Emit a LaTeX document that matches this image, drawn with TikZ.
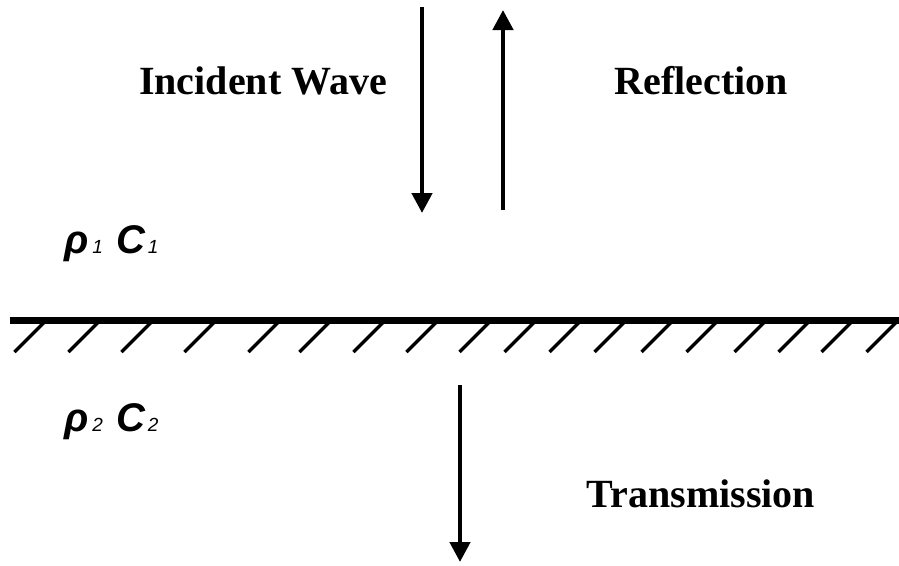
\documentclass[tikz,border=0pt]{standalone}
\usepackage{fontspec}
\setmainfont{Liberation Serif}
\newfontfamily\lsans{Liberation Sans}
\usetikzlibrary{arrows.meta}
\tikzset{
  wave/.style={line width=4.5pt,-{Triangle[width=20pt,length=20pt]}},
  title/.style={inner sep=0pt,anchor=base,font=\fontsize{40}{40}\selectfont\bfseries},
  medium/.style={inner sep=0pt,anchor=base west,font=\lsans\fontsize{40}{40}\selectfont\bfseries\itshape},
  hatch/.style={line width=3.5pt},
  boundary/.style={line width=6.5pt}
}
\newcommand{\subidx}[1]{{\fontsize{19}{19}\selectfont\mdseries #1}}
\begin{document}
\begin{tikzpicture}[x=1pt,y=-1pt]
\useasboundingbox (0,0) rectangle (899,565);
% arrows
\coordinate (incA) at (422,7);
\coordinate (incB) at (422,213);
\coordinate (refA) at (503,210);
\coordinate (refB) at (503,10);
\coordinate (traA) at (460,385);
\coordinate (traB) at (460,562);
\draw[wave] (incA) -- (incB);
\draw[wave] (refA) -- (refB);
\draw[wave] (traA) -- (traB);
% labels
\node[title] (inc) at (263,94) {Incident Wave};
\node[title] (ref) at (701.5,94) {Reflection};
\node[title] (tra) at (701,507) {Transmission};
\node[medium] (m1) at (64,253) {ρ\hspace{4pt}\subidx{1}\hspace{14pt}C\hspace{2pt}\subidx{1}};
\node[medium] (m2) at (64,431) {ρ\hspace{4pt}\subidx{2}\hspace{14pt}C\hspace{2pt}\subidx{2}};
% boundary
\foreach \xb in {13,67,120,183,247,298,352,405,458,503,548,593,640,685,733,777,820,865}
  \draw[hatch] (\xb+1.5,352) -- (\xb+31.5,322);
\coordinate (bL) at (10,320.5);
\coordinate (bR) at (899,320.5);
\draw[boundary] (bL) -- (bR);
\end{tikzpicture}
\end{document}
